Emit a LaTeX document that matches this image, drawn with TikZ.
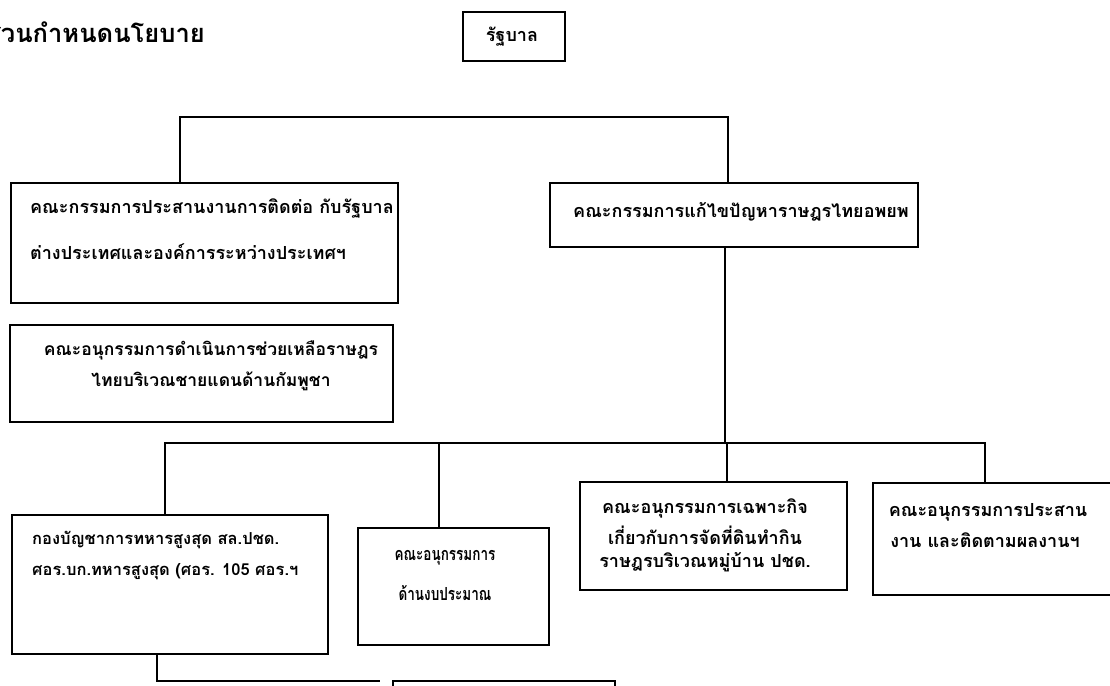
\documentclass[tikz,border=0pt]{standalone}
\usepackage{fontspec}
\newfontfamily\thaifont[Script=Thai]{Loma}
\usetikzlibrary{fit}
\begin{document}
\begin{tikzpicture}[x=1pt,y=-1pt,
  box/.style={draw, line width=2pt, inner sep=0pt},
  conn/.style={line width=2pt},
  txt/.style={font=\thaifont\bfseries\fontsize{18}{20}\selectfont, inner sep=0pt},
  txts/.style={font=\thaifont\bfseries\fontsize{17.5}{20}\selectfont, inner sep=0pt},
  txtc/.style={font=\thaifont\bfseries\fontsize{16.5}{18}\selectfont, inner sep=0pt},
  ttl/.style={font=\thaifont\bfseries\fontsize{25.5}{28}\selectfont, inner sep=0pt}
]
\useasboundingbox (0,0) rectangle (1110,685);
\clip (0,0) rectangle (1110,685);

% title
\node[ttl, anchor=east] (title) at (205,32) {ส่วนกำหนดนโยบาย};

% government
\node[box, fit={(463,12) (565,61)}] (gov) {};
\node[txt] (govt) at (512,37) {รัฐบาล};

% level 1
\node[box, fit={(11,183) (398,303)}] (A) {};
\node[txt, anchor=west] (A1) at (30,208) {คณะกรรมการประสานงานการติดต่อ กับรัฐบาล};
\node[txt, anchor=west] (A2) at (30,252) {ต่างประเทศและองค์การระหว่างประเทศฯ};

\node[box, fit={(550,183) (918,247)}] (B) {};
\node[txt, anchor=west] (B1) at (573,212) {คณะกรรมการแก้ไขปัญหาราษฎรไทยอพยพ};

\node[box, fit={(10,325) (393,422)}] (S) {};
\node[txts] (S1) at (211,350) {คณะอนุกรรมการดำเนินการช่วยเหลือราษฎร};
\node[txts] (S2) at (211,381) {ไทยบริเวณชายแดนด้านกัมพูชา};

% level 2
\node[box, fit={(12,515) (328,654)}] (C) {};
\node[txtc, anchor=west] (C1) at (32,540) {กองบัญชาการทหารสูงสุด สล.ปชด.};
\node[txtc, anchor=west] (C2) at (32,572) {ศอร.บก.ทหารสูงสุด (ศอร. 105 ศอร.ฯ};

\node[box, fit={(358,528) (549,645)}] (D) {};
\node[txt] (D1) at (445,558) {\scalebox{0.75}[1]{คณะอนุกรรมการ}};
\node[txt] (D2) at (445,593) {\scalebox{0.75}[1]{ด้านงบประมาณ}};

\node[box, fit={(580,482) (847,590)}] (E) {};
\node[txt] (E1) at (705,508) {คณะอนุกรรมการเฉพาะกิจ};
\node[txt] (E2) at (705,535) {เกี่ยวกับการจัดที่ดินทำกิน};
\node[txt] (E3) at (705,562) {ราษฎรบริเวณหมู่บ้าน ปชด.};

\node[box, fit={(873,483) (1118,595)}] (F) {};
\node[txt] (F1) at (988,512) {คณะอนุกรรมการประสาน};
\node[txt] (F2) at (985,540) {งาน และติดตามผลงานฯ};

% partially visible box at bottom
\node[box, fit={(393,681) (615,730)}] (G) {};

% connectors
\coordinate (tl) at (180,117);
\coordinate (tr) at (728,117);
\draw[conn] (tl |- A.north) -- (tl) -- (tr) -- (tr |- B.north);

\coordinate (bj) at (725,443);
\draw[conn] (bj |- B.south) -- (bj);

\coordinate (b1) at (165,443);
\coordinate (b2) at (439,443);
\coordinate (b3) at (727,443);
\coordinate (b4) at (985,443);
\draw[conn] (b1 |- C.north) -- (b1) -- (b4) -- (b4 |- F.north);
\draw[conn] (b2) -- (b2 |- D.north);
\draw[conn] (b3) -- (b3 |- E.north);

\coordinate (c1) at (157,681);
\coordinate (c2) at (380,681);
\draw[conn] (c1 |- C.south) -- (c1) -- (c2);
\end{tikzpicture}
\end{document}
